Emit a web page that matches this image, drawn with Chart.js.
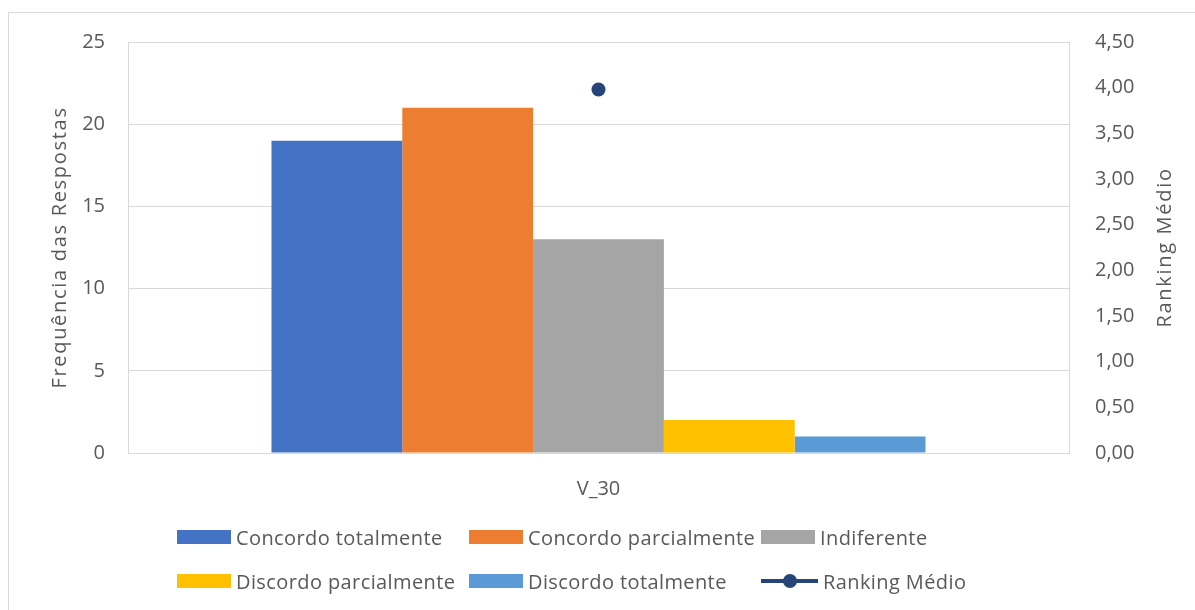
<!DOCTYPE html>
<html>
<head>
<meta charset="utf-8">
<script src="https://cdn.jsdelivr.net/npm/chart.js@4.4.0/dist/chart.umd.min.js"></script>
<style>
  body { margin: 0; background: #fff; font-family: "Open Sans", sans-serif; }
  #wrap { position: relative; width: 1195px; height: 610px; overflow: hidden; }
  #frame { position: absolute; left: 8px; top: 12px; width: 1300px; height: 700px; border: 1px solid #d9d9d9; }
  #chart { position: absolute; left: 0; top: 0; }
  #legend {
    position: absolute; left: 177px; top: 522px;
    display: grid; grid-template-columns: 292px 292px 292px; row-gap: 14px;
  }
  .item { display: flex; align-items: center; height: 30px; color: #595959; font-size: 20px; letter-spacing: 0.4px; white-space: nowrap; }
  .box { width: 54px; height: 14px; margin-right: 5px; }
  .mark { position: relative; width: 57px; height: 14px; margin-right: 5px; }
  .mark .ln { position: absolute; left: 0; right: 0; top: 5px; height: 4px; }
  .mark .pt { position: absolute; left: 22px; top: 0; width: 14px; height: 14px; border-radius: 50%; }
</style>
</head>
<body>
<div id="wrap">
  <div id="frame"></div>
  <canvas id="chart" width="1195" height="610"></canvas>
  <div id="legend"></div>
</div>
<script>
/* =========================
   DATA
========================= */

const categorias = ["V_30"];

const concordoTotalmente = [19];
const concordoParcialmente = [21];
const indiferente = [13];
const discordoParcialmente = [2];
const discordoTotalmente = [1];

const rankingMedio = [3.98];

const textColor = "#595959";
const gridColor = "#d9d9d9";

/* =========================
   AXIS TITLES
   (both read bottom-to-top, so drawn by hand)
========================= */

const axisTitles = {
  id: "axisTitles",
  afterDraw(chart, args, opts) {
    const ctx = chart.ctx;
    const area = chart.chartArea;
    const midY = (area.top + area.bottom) / 2;
    ctx.save();
    ctx.fillStyle = textColor;
    ctx.font = '20px "Open Sans"';
    ctx.letterSpacing = "1.7px";
    ctx.textAlign = "center";
    ctx.textBaseline = "middle";
    opts.items.forEach((t) => {
      ctx.save();
      ctx.translate(t.x, midY);
      ctx.rotate(-Math.PI / 2);
      ctx.fillText(t.text, 0, 0);
      ctx.restore();
    });
    ctx.restore();
  },
};

/* =========================
   CHART
========================= */

function barSet(label, data, color) {
  return {
    type: "bar",
    label: label,
    data: data,
    backgroundColor: color,
    yAxisID: "y",
    categoryPercentage: 0.695,
    barPercentage: 1.0,
    order: 1,
  };
}

const chart = new Chart(document.getElementById("chart"), {
  data: {
    labels: categorias,
    datasets: [
      barSet("Concordo totalmente", concordoTotalmente, "#4472c4"),
      barSet("Concordo parcialmente", concordoParcialmente, "#ed7d31"),
      barSet("Indiferente", indiferente, "#a5a5a5"),
      barSet("Discordo parcialmente", discordoParcialmente, "#ffc000"),
      barSet("Discordo totalmente", discordoTotalmente, "#5b9bd5"),
      {
        type: "line",
        label: "Ranking Médio",
        data: rankingMedio,
        yAxisID: "y1",
        borderColor: "#264478",
        backgroundColor: "#264478",
        borderWidth: 4,
        pointRadius: 7,
        pointBorderWidth: 0,
        showLine: false,
        order: 0,
      },
    ],
  },
  plugins: [axisTitles],
  options: {
    responsive: false,
    animation: false,
    devicePixelRatio: 1,
    layout: { padding: { left: 0, right: 0, top: 42, bottom: 97 } },
    plugins: {
      legend: { display: false },
      tooltip: { enabled: false },
      axisTitles: {
        items: [
          { text: "Frequência das Respostas", x: 60 },
          { text: "Ranking Médio", x: 1165 },
        ],
      },
    },
    scales: {
      x: {
        grid: { display: false },
        border: { color: gridColor },
        ticks: { color: textColor, font: { family: "Open Sans", size: 20 }, padding: 16 },
        afterFit: (scale) => { scale.height = 60; },
      },
      y: {
        position: "left",
        min: 0,
        max: 25,
        ticks: { stepSize: 5, color: textColor, font: { family: "Open Sans", size: 20 }, padding: 23 },
        grid: { color: gridColor, drawTicks: false },
        border: { color: gridColor },
        afterFit: (scale) => { scale.width = 128; },
      },
      y1: {
        position: "right",
        min: 0,
        max: 4.5,
        ticks: {
          stepSize: 0.5,
          color: textColor,
          font: { family: "Open Sans", size: 20 },
          padding: 26,
          callback: (v) => v.toFixed(2).replace(".", ","),
        },
        grid: { display: false, drawTicks: false },
        border: { color: gridColor },
        afterFit: (scale) => { scale.width = 126; },
      },
    },
  },
});

/* =========================
   LEGEND
========================= */

const legend = document.getElementById("legend");

chart.data.datasets.forEach((ds) => {
  const item = document.createElement("div");
  item.className = "item";
  if (ds.type === "line") {
    item.innerHTML =
      '<span class="mark"><span class="ln" style="background:' + ds.borderColor +
      '"></span><span class="pt" style="background:' + ds.backgroundColor + '"></span></span>';
  } else {
    item.innerHTML = '<span class="box" style="background:' + ds.backgroundColor + '"></span>';
  }
  const text = document.createElement("span");
  text.textContent = ds.label;
  item.appendChild(text);
  legend.appendChild(item);
});
</script>
</body>
</html>
